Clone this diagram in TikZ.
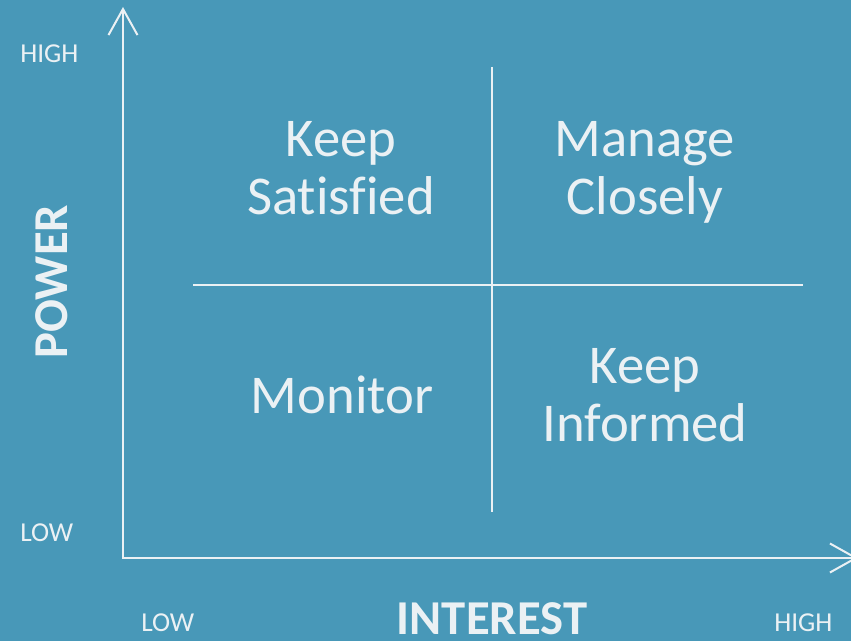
\documentclass[tikz,border=0pt]{standalone}
\usepackage{fontspec}
\setmainfont[Ligatures=NoCommon]{Carlito}
\usetikzlibrary{arrows.meta}
\definecolor{slidebg}{HTML}{4898B8}
\definecolor{slidefg}{HTML}{EBF1F4}

\begin{document}
\begin{tikzpicture}[x=0.75pt,y=-0.75pt,
        axis/.style={slidefg,line width=1.5pt,line cap=rect,
            -{Straight Barb[length=19.5pt,width=21.75pt]}},
        divider/.style={slidefg,line width=0.9pt},
        quadrant/.style={text=slidefg,align=center,inner sep=0pt,anchor=base,
            font=\fontsize{41}{43.5}\selectfont},
        tick/.style={text=slidefg,inner sep=0pt,font=\fontsize{20.5}{24}\selectfont},
        axislabel/.style={text=slidefg,inner sep=0pt,anchor=base,
            font=\fontsize{36.5}{40}\selectfont\bfseries}]
            \fill[slidebg] (0,0) rectangle (851,641);
            \useasboundingbox (0,0) rectangle (851,641);
            \clip (0,0) rectangle (851,641);

            % axes
            \coordinate (origin) at (123,558);
            \coordinate (powertop) at (123,7);
            \coordinate (interestend) at (858,558);
            \draw[axis] (origin) -- (powertop);
            \draw[axis] (origin) -- (interestend);

            % quadrant dividers
            \coordinate (divtop) at (492,67);
            \coordinate (divbottom) at (492,512);
            \coordinate (divleft) at (193,285);
            \coordinate (divright) at (803,285);
            \draw[divider] (divtop) -- (divbottom);
            \draw[divider] (divleft) -- (divright);

            % base anchor sits on the last line
            \node[quadrant] (satisfied) at (341,215) {Keep\\Satisfied};
            \node[quadrant] (manage) at (645,215) {Manage\\Closely};
            \node[quadrant] (monitor) at (342,414) {Monitor};
            \node[quadrant] (informed) at (645,442) {Keep\\Informed};

            \node[tick,anchor=base west] (powerhigh) at (20,63) {HIGH};
            \node[tick,anchor=base west] (powerlow) at (20,542) {LOW};
            \node[tick,anchor=base west] (interestlow) at (141,632) {LOW};
            \node[tick,anchor=base west] (interesthigh) at (774,632) {HIGH};

            \node[axislabel] (interest) at (492,635) {INTEREST};
            \node[axislabel,rotate=90] (power) at (67,281.5) {POWER};
        \end{tikzpicture}
\end{document}
